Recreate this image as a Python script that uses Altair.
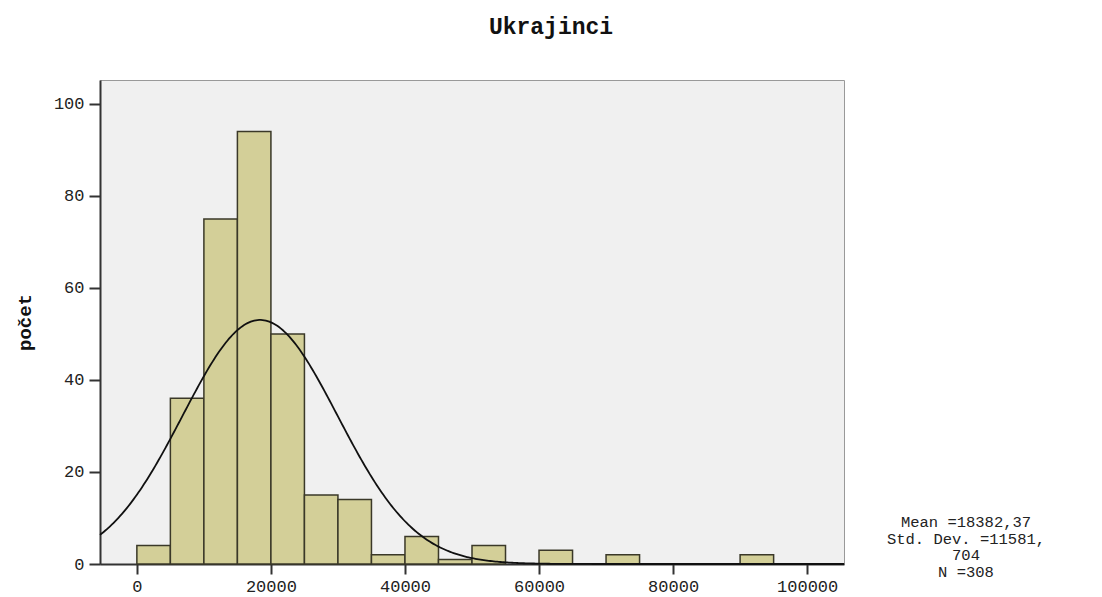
import altair as alt
import pandas as pd
import numpy as np

# Histogram bins (width 5000) and counts
bin_start = [0, 5000, 10000, 15000, 20000, 25000, 30000, 35000, 40000, 45000, 50000, 60000, 70000, 90000]
counts    = [4, 36, 75, 94, 50, 15, 14, 2, 6, 1, 4, 3, 2, 2]
bin_width = 5000

# Summary statistics printed on the chart
mean = 18382.37
std = 11581.704
n = 308
stats_lines = ["Mean =18382,37", "Std. Dev. =11581,", "704", "N =308"]
title_text = "Ukrajinci"

x_ticks = [0, 20000, 40000, 60000, 80000, 100000]
y_ticks = [0, 20, 40, 60, 80, 100]
x_domain = [-5500, 105500]
y_domain = [0, 105.2]

bars = pd.DataFrame({
    "start": bin_start,
    "end": [b + bin_width for b in bin_start],
    "count": counts,
})

# Fitted normal curve (scaled to counts), as drawn by the original software
xs = np.linspace(x_domain[0], x_domain[1], 445)
ys = n * bin_width / (std * np.sqrt(2 * np.pi)) * np.exp(-0.5 * ((xs - mean) / std) ** 2)
curve = pd.DataFrame({"x": xs, "y": ys})

FONT = "Liberation Mono"

xscale = alt.Scale(domain=x_domain, nice=False, zero=False)
yscale = alt.Scale(domain=y_domain, nice=False)

hist = alt.Chart(bars).mark_rect(
    fill="#D3CF98", stroke="#3A3828", strokeWidth=1.5
).encode(
    x=alt.X("start:Q", scale=xscale,
            axis=alt.Axis(values=x_ticks, format="d", title=None, grid=False,
                          tickSize=10, tickWidth=2, tickColor="#333",
                          domainColor="#333", domainWidth=2,
                          labelFont=FONT, labelFontSize=17, labelColor="#222",
                          labelPadding=4, labelFlush=False)),
    x2="end:Q",
    y=alt.Y("count:Q", scale=yscale,
            axis=alt.Axis(values=y_ticks, title="počet", grid=False,
                          tickSize=11, tickWidth=2, tickColor="#333",
                          domainColor="#333", domainWidth=2,
                          labelFont=FONT, labelFontSize=17, labelColor="#222",
                          labelPadding=5,
                          titleFont=FONT, titleFontSize=19, titleFontWeight="bold",
                          titleColor="#111", titleAngle=-90,
                          titleX=-76, titleY=242, titleAlign="center",
                          titleBaseline="middle")),
)

line = alt.Chart(curve).mark_line(color="#111", strokeWidth=1.8).encode(
    x=alt.X("x:Q", scale=xscale),
    y=alt.Y("y:Q", scale=yscale),
)

one = pd.DataFrame({"k": [0]})

stats = alt.Chart(one).mark_text(
    text=stats_lines, font=FONT, fontSize=15.5, lineHeight=16.5,
    align="center", baseline="alphabetic", color="#222"
).encode(
    x=alt.value(866),
    y=alt.value(447),
)

title = alt.Chart(one).mark_text(
    text=title_text, font=FONT, fontSize=23, fontWeight="bold",
    align="center", baseline="alphabetic", color="#111"
).encode(
    x=alt.value(451),
    y=alt.value(-46),
)

chart = alt.layer(hist, line, stats, title).properties(
    width=744,
    height=484,
    background="white",
    autosize=alt.AutoSizeParams(type="none"),
    padding={"left": 92, "top": 72, "right": 250, "bottom": 33},
).configure_view(
    fill="#F0F0F0", stroke="#999999", strokeWidth=1
)

chart.save("out.html", embed_options={"renderer": "svg", "actions": False})
